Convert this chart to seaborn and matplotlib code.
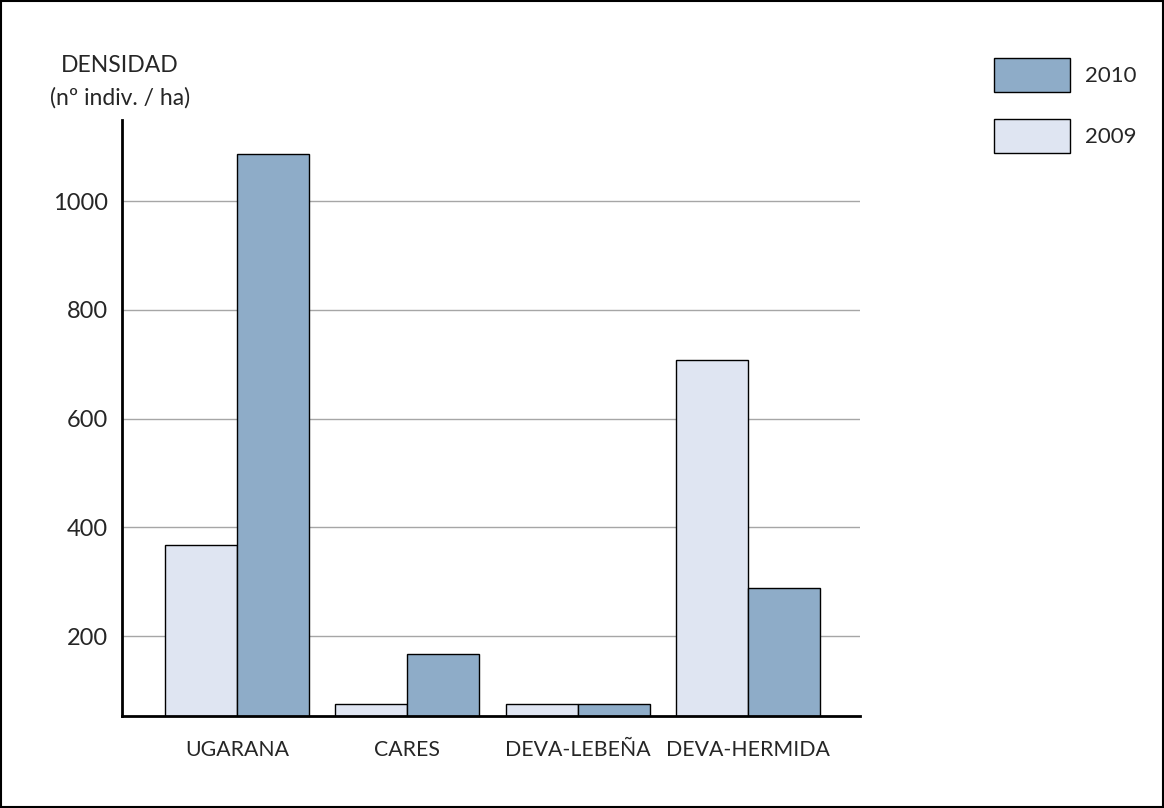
import pandas as pd
import seaborn as sns
import matplotlib.pyplot as plt
from matplotlib.patches import Rectangle

# Data
sites = ["UGARANA", "CARES", "DEVA-LEBEÑA", "DEVA-HERMIDA"]
years = ["2009", "2010"]
dens_2009 = [367, 75, 75, 708]
dens_2010 = [1086, 167, 75, 288]
yticks = [200, 400, 600, 800, 1000]

df = pd.DataFrame({
    "site": sites * 2,
    "year": ["2009"] * len(sites) + ["2010"] * len(sites),
    "dens": dens_2009 + dens_2010,
})

sns.set_style("white")
plt.rcParams["font.family"] = ["Lato", "DejaVu Sans"]

fig = plt.figure(figsize=(11.64, 8.08), dpi=100)
ax = fig.add_axes([0.1048, 0.1139, 0.634, 0.7376])

sns.barplot(data=df, x="site", y="dens", hue="year", hue_order=years,
            order=sites, palette=["#dfe5f2", "#8eacc8"], width=0.845,
            edgecolor="black", linewidth=1, saturation=1, ax=ax)

ax.set_xlim(-0.675, 3.658)
ax.set_ylim(53, 1149)
ax.set_yticks(yticks)
ax.set_yticklabels([str(t) for t in yticks])
ax.set_xlabel("")
ax.set_ylabel("")
ax.set_axisbelow(True)
ax.grid(axis="y", color="#a6a6a6", linewidth=1)
ax.grid(axis="x", visible=False)

sns.despine(ax=ax)
for side in ["left", "bottom"]:
    ax.spines[side].set_color("black")
    ax.spines[side].set_linewidth(2)

ax.tick_params(axis="y", length=0, pad=10, labelsize=17)
ax.tick_params(axis="x", length=7, width=1, color="#a6a6a6", direction="out",
               pad=10, labelsize=15.3)

# axis title above the y-axis
fig.text(120 / 1164, 1 - 66 / 808, "DENSIDAD", ha="center", va="center", fontsize=16.5)
fig.text(120 / 1164, 1 - 98 / 808, "(nº indiv. / ha)", ha="center", va="center", fontsize=16.5)

# legend, 2010 on top
handles, labels = ax.get_legend_handles_labels()
ax.legend_.remove()
fig.legend(handles[::-1], labels[::-1], loc="upper left",
           bbox_to_anchor=(994 / 1164, 1 - 58 / 808), frameon=False,
           fontsize=16, handlelength=3.4, handleheight=1.97,
           handletextpad=0.68, labelspacing=1.24, borderpad=0, borderaxespad=0)

# border around the whole figure
fig.patches.append(Rectangle((0.001, 0.001), 0.998, 0.998, transform=fig.transFigure,
                             fill=False, edgecolor="black", linewidth=1.5))

fig.savefig("out.png", dpi=100)
